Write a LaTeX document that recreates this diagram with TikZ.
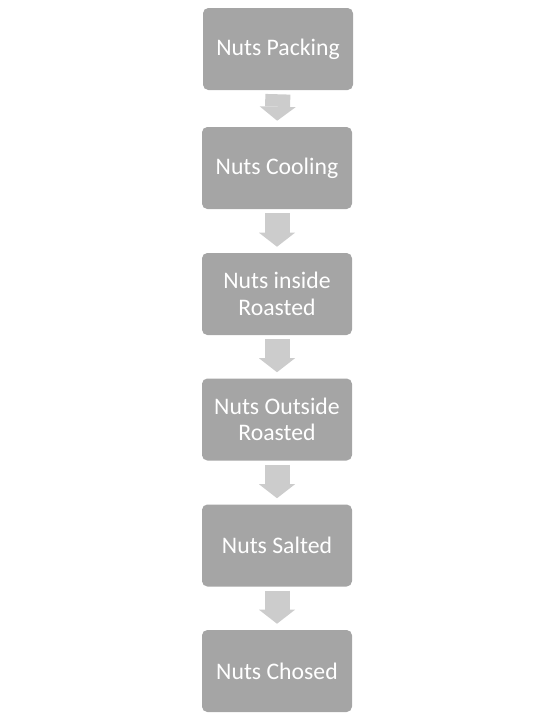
\documentclass[tikz,border=0pt]{standalone}
\usepackage{fontspec}
\setmainfont{Carlito}
\usetikzlibrary{arrows.meta}
\begin{document}
\begin{tikzpicture}[x=0.75pt,y=0.75pt,yscale=-1,xscale=1,
	stage/.style={fill={rgb, 255:red, 165; green, 165; blue, 165 },rounded corners=4pt,minimum width=112.5pt,minimum height=61.5pt,inner sep=0pt,align=center,text=white,font=\fontsize{17.8}{19.8}\selectfont},
	flow/.style={draw={rgb, 255:red, 204; green, 204; blue, 204 },line width=18.75pt,-{Triangle[width=27pt,length=10.5pt,line width=0pt]},shorten <=3pt,shorten >=4.5pt}]
	\useasboundingbox (0,0) rectangle (554,714);
	
	%Shape: Rounded Rect
	\node [stage] (packing) at (278,49) {Nuts Packing};
	%Shape: Rounded Rect
	\node [stage] (cooling) at (277,168) {Nuts Cooling};
	%Shape: Rounded Rect
	\node [stage] (inside) at (277,294) {Nuts inside\\Roasted};
	%Shape: Rounded Rect
	\node [stage] (outside) at (277,419.5) {Nuts Outside\\Roasted};
	%Shape: Rounded Rect
	\node [stage] (salted) at (277,545.5) {Nuts Salted};
	%Shape: Rounded Rect
	\node [stage] (chosed) at (277,671) {Nuts Chosed};
	
	%Down Arrows
	\draw [flow] (packing.south) -- (cooling.north);
	\draw [flow] (cooling.south) -- (inside.north);
	\draw [flow] (inside.south) -- (outside.north);
	\draw [flow] (outside.south) -- (salted.north);
	\draw [flow] (salted.south) -- (chosed.north);
	
\end{tikzpicture}
\end{document}
